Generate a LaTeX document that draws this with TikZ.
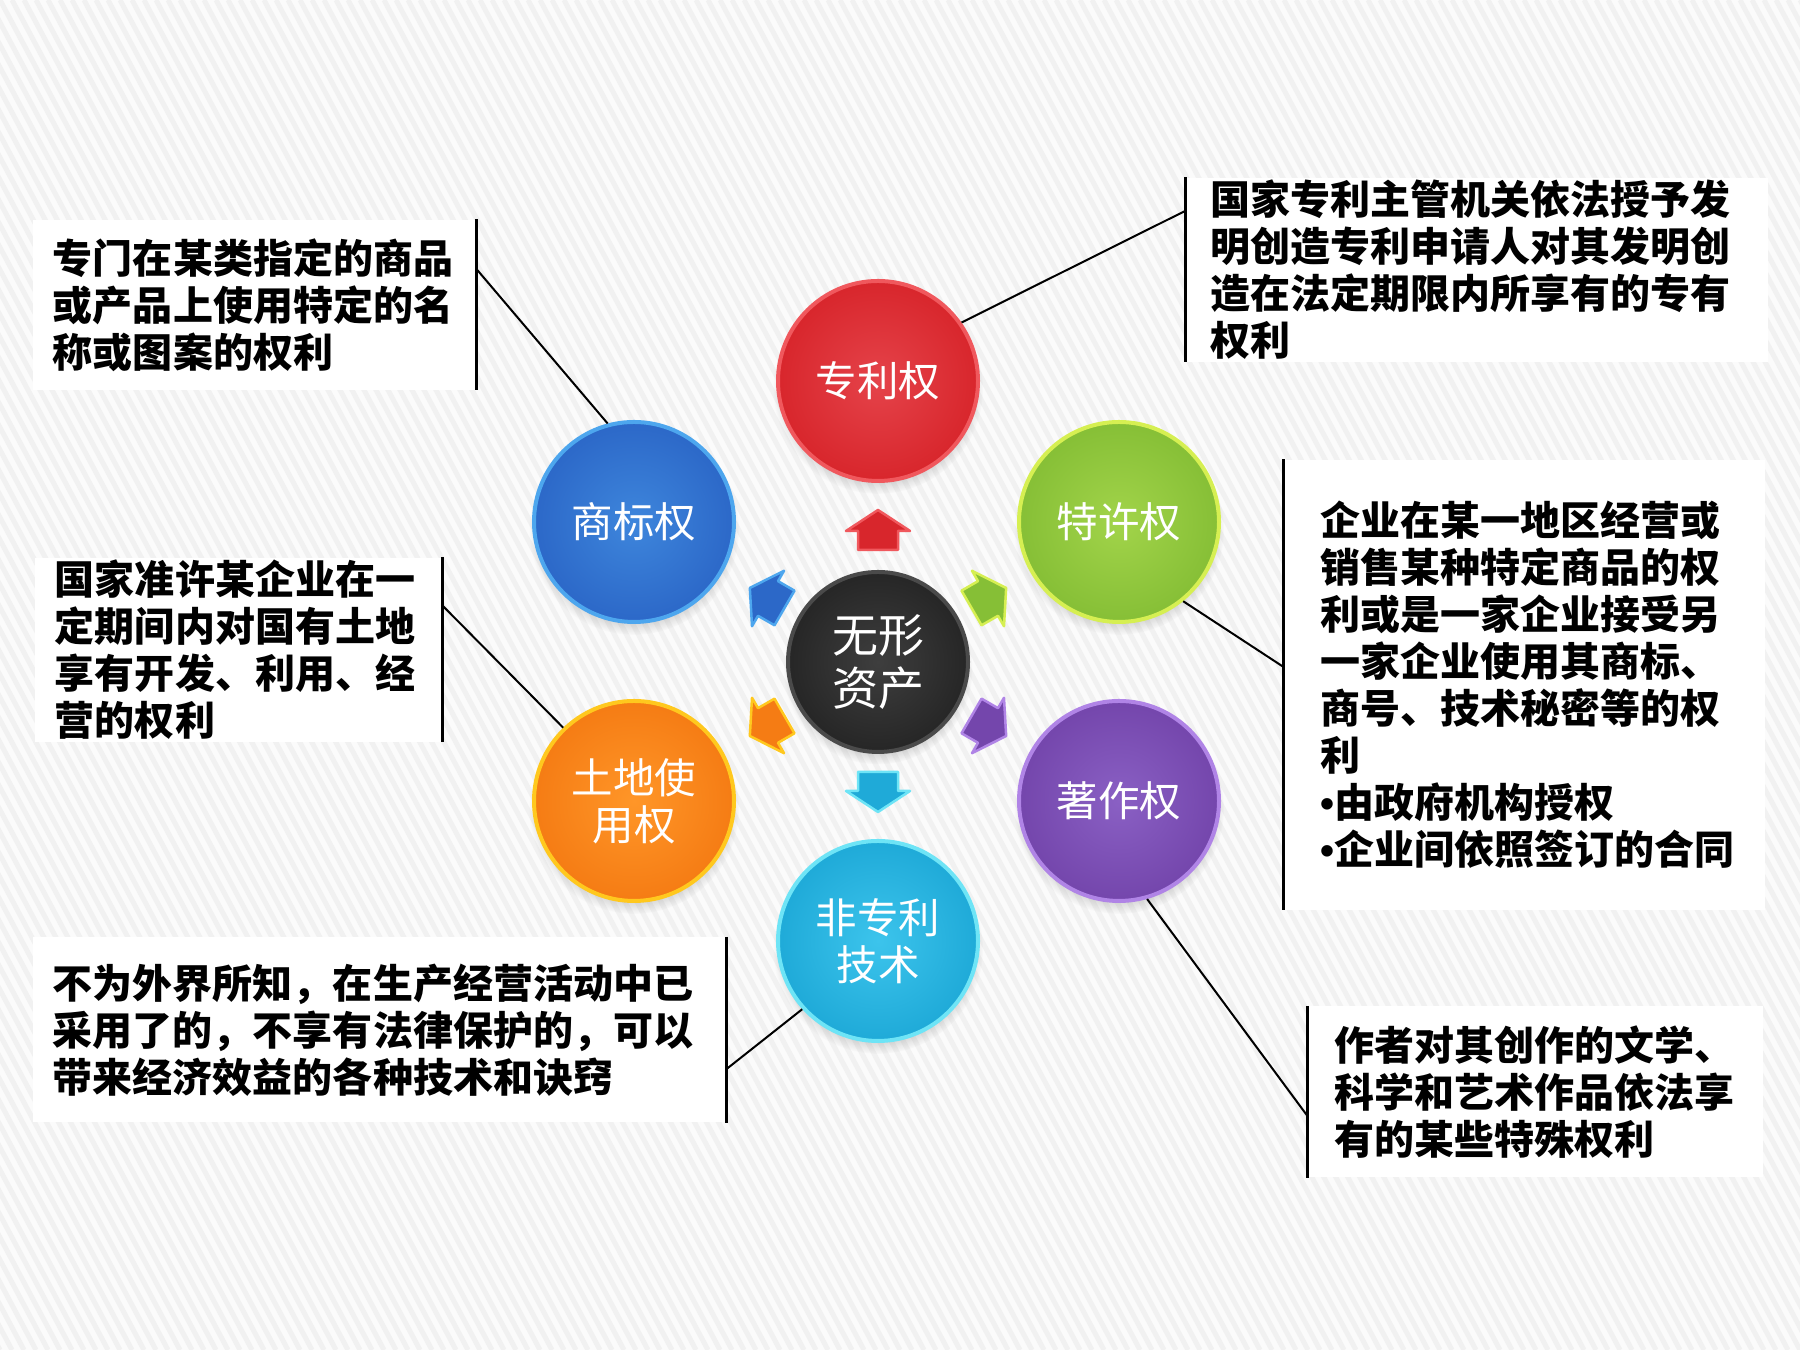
\documentclass[tikz,border=0pt]{standalone}
\usepackage{fontspec}
\newfontfamily\cjk{Noto Sans CJK SC}
\newfontfamily\latin{Liberation Sans}
\usetikzlibrary{calc,shadows,fadings}

\definecolor{backgray}{HTML}{FBFBFB}
\definecolor{stripegray}{HTML}{F1F1F1}
\definecolor{hubmain}{HTML}{262626}
\definecolor{hubin}{HTML}{3E3E3E}
\definecolor{hubrim}{HTML}{4A4A4A}
\definecolor{redmain}{HTML}{D8262C}
\definecolor{redin}{HTML}{E5434A}
\definecolor{redrim}{HTML}{F0585D}
\definecolor{bluemain}{HTML}{2C68C8}
\definecolor{bluein}{HTML}{3E86DC}
\definecolor{bluerim}{HTML}{4DA6EE}
\definecolor{greenmain}{HTML}{86BF36}
\definecolor{greenin}{HTML}{A2D44A}
\definecolor{greenrim}{HTML}{D6EF52}
\definecolor{orangemain}{HTML}{F57C14}
\definecolor{orangein}{HTML}{FF9628}
\definecolor{orangerim}{HTML}{FFC81E}
\definecolor{purplemain}{HTML}{7446AC}
\definecolor{purplein}{HTML}{8A60C4}
\definecolor{purplerim}{HTML}{B084E6}
\definecolor{cyanmain}{HTML}{1FAAD8}
\definecolor{cyanin}{HTML}{3CC4EC}
\definecolor{cyanrim}{HTML}{6EE4F6}

\tikzset{
  asset/.style={circle, minimum size=80pt, inner sep=0pt, line width=1.6pt,
    text=white, align=center, font=\cjk\fontsize{16.6}{18.8}\selectfont,
    circular drop shadow={shadow xshift=0pt, shadow yshift=-3pt, shadow scale=1.05, opacity=0.35}},
  desc/.style={fill=white, inner ysep=0pt, align=left,
    font=\cjk\bfseries\fontsize{16}{18.8}\selectfont},
  bar/.style={line width=1.4pt},
  link/.style={line width=0.8pt},
  blockarrow/.style={line width=1pt, line join=round},
  stripe/.style={stripegray, line width=2pt}
}

\begin{document}
\begin{tikzpicture}[x=0.4pt, y=0.4pt]
  \useasboundingbox (0,0) rectangle (1800,1350);

  % Draw striped background
  \fill[backgray] (0,0) rectangle (1800,1350);
  \begin{scope}
    \clip (0,0) rectangle (1800,1350);
    \foreach \s in {0,12,...,2532} \draw[stripe] (\s,0) -- ++(-720,1350);
  \end{scope}

  % Draw description boxes and their bars
  \node[desc, text width=161.2pt, inner xsep=8pt, minimum height=68pt] (tmtext) at (254.5,1045)
    {专门在某类指定的商品\\或产品上使用特定的名\\称或图案的权利};
  \draw[bar] (tmtext.north east) -- (tmtext.south east);

  \node[desc, text width=213.6pt, inner xsep=9.6pt, minimum height=73.6pt] (pttext) at (1477,1080)
    {国家专利主管机关依法授予发\\明创造专利申请人对其发明创\\造在法定期限内所享有的专有\\权利};
  \draw[bar] (pttext.north west) -- (pttext.south west);

  \node[desc, text width=146.8pt, inner xsep=8pt, minimum height=73.6pt] (lutext) at (238.5,700)
    {国家准许某企业在一\\定期间内对国有土地\\享有开发、利用、经\\营的权利};
  \draw[bar] (lutext.north east) -- (lutext.south east);

  \node[desc, text width=163.6pt, inner xsep=14.4pt, minimum height=180pt] (frtext) at (1524.5,665)
    {企业在某一地区经营或\\销售某种特定商品的权\\利或是一家企业接受另\\一家企业使用其商标、\\商号、技术秘密等的权\\利\\{\latin •}由政府机构授权\\{\latin •}企业间依照签订的合同};
  \draw[bar] (frtext.north west) -- (frtext.south west);

  \node[desc, text width=261.2pt, inner xsep=8pt, minimum height=74pt] (khtext) at (379.5,320)
    {不为外界所知，在生产经营活动中已\\采用了的，不享有法律保护的，可以\\带来经济效益的各种技术和诀窍};
  \draw[bar] (khtext.north east) -- (khtext.south east);

  \node[desc, text width=161.2pt, inner xsep=10.4pt, minimum height=68.4pt] (crtext) at (1535.5,258)
    {作者对其创作的文学、\\科学和艺术作品依法享\\有的某些特殊权利};
  \draw[bar] (crtext.north west) -- (crtext.south west);

  % Draw centre circle
  \node[asset, minimum size=72pt, draw=hubrim, inner color=hubin, outer color=hubmain,
    font=\cjk\fontsize{18.4}{21}\selectfont] (hub) at (878,688) {无形\\资产};

  % Draw outer circles
  \node[asset, draw=redrim, inner color=redin, outer color=redmain] (patent) at (878,969) {专利权};
  \node[asset, draw=bluerim, inner color=bluein, outer color=bluemain] (trademark) at (634,828) {商标权};
  \node[asset, draw=greenrim, inner color=greenin, outer color=greenmain] (franchise) at (1119,828) {特许权};
  \node[asset, draw=orangerim, inner color=orangein, outer color=orangemain] (landuse) at (634,549) {土地使\\用权};
  \node[asset, draw=purplerim, inner color=purplein, outer color=purplemain] (copyright) at (1119,549) {著作权};
  \node[asset, draw=cyanrim, inner color=cyanin, outer color=cyanmain] (knowhow) at (878,409) {非专利\\技术};

  % Draw lines from bars to circles
  \draw[link] ($(tmtext.north east)!0.29!(tmtext.south east)$) -- (trademark.105);
  \draw[link] ($(pttext.north west)!0.18!(pttext.south west)$) -- (patent.35);
  \draw[link] ($(lutext.north east)!0.26!(lutext.south east)$) -- (landuse.134);
  \draw[link] ($(frtext.north west)!0.46!(frtext.south west)$) -- (franchise.-51);
  \draw[link] ($(khtext.north east)!0.71!(khtext.south east)$) -- (knowhow.222);
  \draw[link] ($(crtext.north west)!0.64!(crtext.south west)$) -- (copyright.-74);

  % Draw block arrows round the centre circle
  \filldraw[blockarrow, fill=redmain, draw=redrim, shift={(hub.center)}, rotate=90]
    (112,-20) -- (131,-20) -- (131,-32) -- (152,0) -- (131,32) -- (131,20) -- (112,20) -- cycle;
  \filldraw[blockarrow, fill=bluemain, draw=bluerim, shift={(hub.center)}, rotate=150]
    (108,-20) -- (127,-20) -- (127,-32) -- (148,0) -- (127,32) -- (127,20) -- (108,20) -- cycle;
  \filldraw[blockarrow, fill=greenmain, draw=greenrim, shift={(hub.center)}, rotate=30]
    (108,-20) -- (127,-20) -- (127,-32) -- (148,0) -- (127,32) -- (127,20) -- (108,20) -- cycle;
  \filldraw[blockarrow, fill=orangemain, draw=orangerim, shift={(hub.center)}, rotate=210]
    (108,-20) -- (127,-20) -- (127,-32) -- (148,0) -- (127,32) -- (127,20) -- (108,20) -- cycle;
  \filldraw[blockarrow, fill=purplemain, draw=purplerim, shift={(hub.center)}, rotate=330]
    (108,-20) -- (127,-20) -- (127,-32) -- (148,0) -- (127,32) -- (127,20) -- (108,20) -- cycle;
  \filldraw[blockarrow, fill=cyanmain, draw=cyanrim, shift={(hub.center)}, rotate=270]
    (110,-20) -- (129,-20) -- (129,-32) -- (150,0) -- (129,32) -- (129,20) -- (110,20) -- cycle;

\end{tikzpicture}
\end{document}
